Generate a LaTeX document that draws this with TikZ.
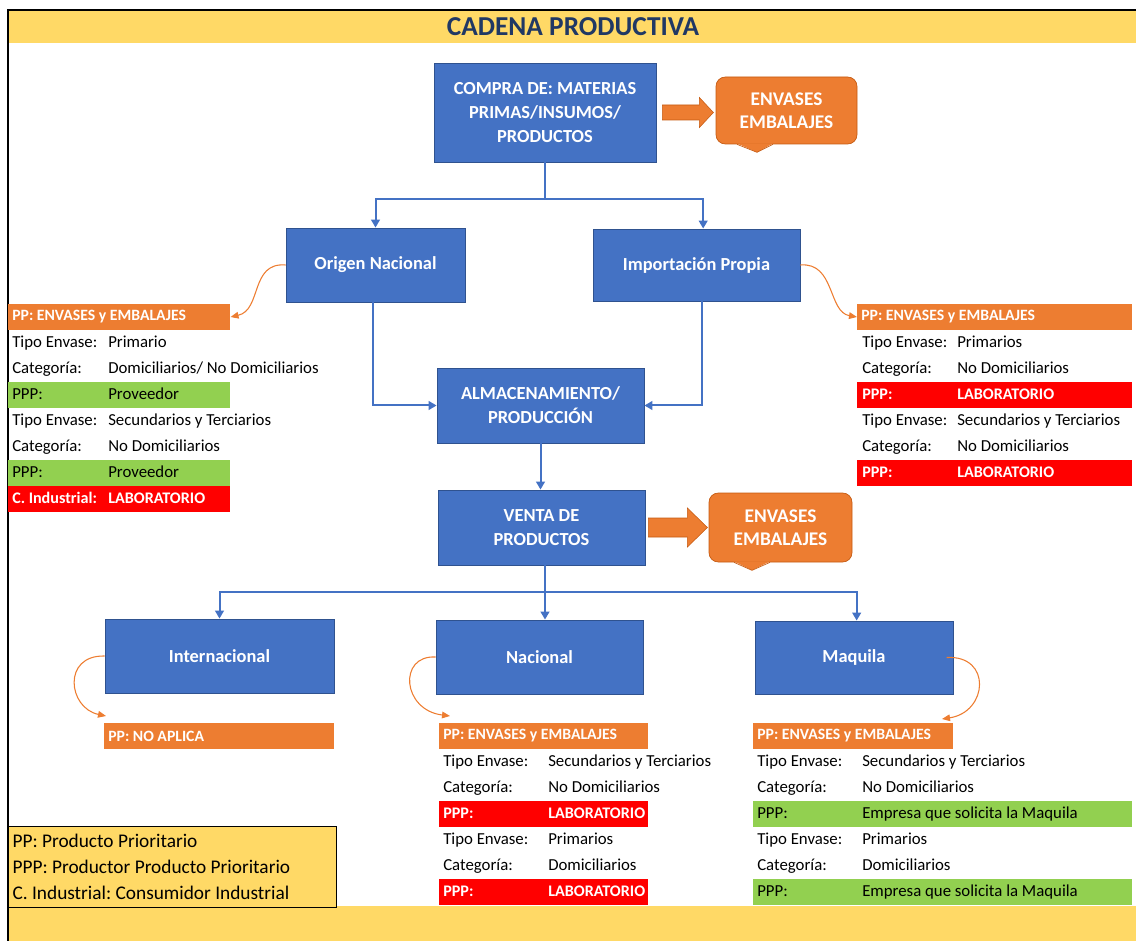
\documentclass[tikz,border=0pt]{standalone}
\usepackage{fontspec}
\setmainfont{Carlito}
\usetikzlibrary{arrows.meta,calc}
\usetikzlibrary{positioning}

\definecolor{azul}{HTML}{4472C4}
\definecolor{azulborde}{HTML}{2F528F}
\definecolor{naranja}{HTML}{ED7D31}
\definecolor{naranjaborde}{HTML}{C55A11}
\definecolor{verde}{HTML}{92D050}
\definecolor{rojo}{HTML}{FF0000}
\definecolor{amarillo}{HTML}{FFD966}
\definecolor{titulo}{HTML}{203864}

\begin{document}
\frenchspacing
\begin{tikzpicture}[x=0.75pt,y=-0.75pt,
  bloque/.style={draw=azulborde, fill=azul, text=white, line width=0.6pt, align=center,
    font=\fontsize{13.8}{18}\selectfont\bfseries},
  globo/.style={draw=naranjaborde, fill=naranja, text=white, line width=0.5pt, align=center,
    rounded corners=7pt, font=\fontsize{14.5}{17.5}\selectfont\bfseries},
  bflecha/.style={draw=naranjaborde, fill=naranja, line width=0.4pt},
  linea/.style={azul, line width=1.5pt},
  flecha/.style={linea, -{Triangle[length=6pt,width=6.5pt]}},
  curva/.style={naranja, line width=0.8pt, -{Triangle[length=6pt,width=5pt]}},
  cabecera/.style={anchor=west, fill=naranja, text=white, minimum height=19.5pt,
    inner xsep=3pt, inner ysep=0pt, align=flush left, font=\fontsize{11.8}{14}\selectfont\bfseries},
  barra/.style={anchor=west, minimum height=19.5pt, inner sep=0pt},
  txt/.style={anchor=west, inner sep=0pt, text height=1.6ex, text depth=.3ex,
    font=\fontsize{12.6}{14}\selectfont},
  txtb/.style={txt, text=white, font=\fontsize{12.1}{14}\selectfont\bfseries},
]
\useasboundingbox (0,0) rectangle (1136,941);

% franjas y marco
\fill[amarillo] (8,10) rectangle (1136,43);
\fill[amarillo] (8,906) rectangle (1136,941);
\draw[black, line width=1pt] (1136,10) -- (8,10) -- (8,941);
\node[font=\fontsize{20.5}{22}\selectfont\bfseries, text=titulo] (tit) at (573,27) {CADENA PRODUCTIVA};

% bloques principales
\node[bloque, minimum width=166.5pt, minimum height=74.25pt] (compra) at (545,112.5)
  {COMPRA DE: MATERIAS\\PRIMAS/INSUMOS/\\PRODUCTOS};
\node[bloque, minimum width=134.25pt, minimum height=55.5pt] (origen) at (375.5,265) {Origen Nacional};
\node[bloque, minimum width=155.25pt, minimum height=54pt] (importa) at (696.5,265) {Importación Propia};
\node[bloque, minimum width=155.25pt, minimum height=56.25pt] (almac) at (540.5,405.5)
  {ALMACENAMIENTO/\\PRODUCCIÓN};
\node[bloque, minimum width=155.25pt, minimum height=56.25pt] (venta) at (541.5,527.5)
  {VENTA DE\\PRODUCTOS};
\node[bloque, minimum width=171.75pt, minimum height=55.5pt] (inter) at (219.5,656) {Internacional};
\node[bloque, minimum width=155.25pt, minimum height=55.5pt] (nacional) at (539.5,657) {Nacional};
\node[bloque, minimum width=148.5pt, minimum height=54.75pt] (maquila) at (854,657.5) {Maquila};

% globos
\node[globo, minimum width=105.75pt, minimum height=50.25pt] (env1) at (786.5,110.5) {ENVASES\\EMBALAJES};
\fill[naranja] ($(env1.south)+(-49.5,-1)$) -- ($(env1.south)+(-29.5,8)$) -- ($(env1.south)+(-13.5,-1)$) -- cycle;
\draw[naranjaborde, line width=0.5pt] ($(env1.south)+(-49.5,0)$) -- ($(env1.south)+(-29.5,8)$) -- ($(env1.south)+(-13.5,0)$);
\node[globo, minimum width=107.25pt, minimum height=51.75pt] (env2) at (780.5,527.5) {ENVASES\\EMBALAJES};
\fill[naranja] ($(env2.south)+(-46.5,-1)$) -- ($(env2.south)+(-28.5,8)$) -- ($(env2.south)+(-10.5,-1)$) -- cycle;
\draw[naranjaborde, line width=0.5pt] ($(env2.south)+(-46.5,0)$) -- ($(env2.south)+(-28.5,8)$) -- ($(env2.south)+(-10.5,0)$);

\draw[bflecha] ($(compra.east)+(6,-7.5)$) -- ++(37,0) -- ++(0,-7.5) -- ++(14,15) -- ++(-14,15)
  -- ++(0,-7.5) -- ++(-37,0) -- cycle;
\draw[bflecha] ($(venta.east)+(3,-9.5)$) -- ++(39,0) -- ++(0,-10) -- ++(20,19.5) -- ++(-20,19.5)
  -- ++(0,-10) -- ++(-39,0) -- cycle;

% conectores
\coordinate (j1) at (545,199);
\coordinate (j2) at (545,592);
\draw[linea] (j1 |- compra.south) -- (j1);
\draw[flecha] (j1) -| (origen.north);
\draw[flecha] (j1) -| ([xshift=5pt]importa.north);
\draw[flecha] ([xshift=-2pt]origen.south) |- (almac.west);
\draw[flecha] ([xshift=4pt]importa.south) |- (almac.east);
\draw[flecha] (almac.south) -- (almac.south |- venta.north);
\draw[linea] (j2 |- venta.south) -- (j2);
\draw[flecha] (j2) -| (inter.north);
\draw[flecha] (j2) -- (j2 |- nacional.north);
\draw[flecha] (j2) -| ([xshift=2pt]maquila.north);

% tabla origen nacional
\node[cabecera, text width=160.5pt] (pp1) at (8,317) {PP: ENVASES y EMBALAJES};
\node[txt] (l1a) at (12,343) {Tipo Envase:};
\node[txt] (l1b) at (108,343) {Primario};
\node[txt] (l2a) at (12,369) {Categoría:};
\node[txt] (l2b) at (108,369) {Domiciliarios/ No Domiciliarios};
\node[barra, fill=verde, minimum width=166.5pt] (l3) at (8,395) {};
\node[txt] (l3a) at (12,395) {PPP:};
\node[txt] (l3b) at (108,395) {Proveedor};
\node[txt] (l4a) at (12,421) {Tipo Envase:};
\node[txt] (l4b) at (108,421) {Secundarios y Terciarios};
\node[txt] (l5a) at (12,447) {Categoría:};
\node[txt] (l5b) at (108,447) {No Domiciliarios};
\node[barra, fill=verde, minimum width=166.5pt] (l6) at (8,473) {};
\node[txt] (l6a) at (12,473) {PPP:};
\node[txt] (l6b) at (108,473) {Proveedor};
\node[barra, fill=rojo, minimum width=166.5pt] (l7) at (8,499) {};
\node[txtb] (l7a) at (12,499) {C. Industrial:};
\node[txtb] (l7b) at (108,499) {LABORATORIO};

% tabla importacion propia
\node[cabecera, text width=200.25pt] (pp2) at (857,317) {PP: ENVASES y EMBALAJES};
\node[txt] (r1a) at (862,343) {Tipo Envase:};
\node[txt] (r1b) at (957,343) {Primarios};
\node[txt] (r2a) at (862,369) {Categoría:};
\node[txt] (r2b) at (957,369) {No Domiciliarios};
\node[barra, fill=rojo, minimum width=206.25pt] (r3) at (857,395) {};
\node[txtb] (r3a) at (862,395) {PPP:};
\node[txtb] (r3b) at (957,395) {LABORATORIO};
\node[txt] (r4a) at (862,421) {Tipo Envase:};
\node[txt] (r4b) at (957,421) {Secundarios y Terciarios};
\node[txt] (r5a) at (862,447) {Categoría:};
\node[txt] (r5b) at (957,447) {No Domiciliarios};
\node[barra, fill=rojo, minimum width=206.25pt] (r6) at (857,473) {};
\node[txtb] (r6a) at (862,473) {PPP:};
\node[txtb] (r6b) at (957,473) {LABORATORIO};

% internacional
\node[cabecera, text width=166.5pt] (pp3) at (104,736) {PP: NO APLICA};

% tabla nacional
\node[cabecera, text width=150.75pt] (pp4) at (439,736) {PP: ENVASES y EMBALAJES};
\node[txt] (n1a) at (443,762) {Tipo Envase:};
\node[txt] (n1b) at (548,762) {Secundarios y Terciarios};
\node[txt] (n2a) at (443,788) {Categoría:};
\node[txt] (n2b) at (548,788) {No Domiciliarios};
\node[barra, fill=rojo, minimum width=156.75pt] (n3) at (439,814) {};
\node[txtb] (n3a) at (443,814) {PPP:};
\node[txtb] (n3b) at (548,814) {LABORATORIO};
\node[txt] (n4a) at (443,840) {Tipo Envase:};
\node[txt] (n4b) at (548,840) {Primarios};
\node[txt] (n5a) at (443,866) {Categoría:};
\node[txt] (n5b) at (548,866) {Domiciliarios};
\node[barra, fill=rojo, minimum width=156.75pt] (n6) at (439,892) {};
\node[txtb] (n6a) at (443,892) {PPP:};
\node[txtb] (n6b) at (548,892) {LABORATORIO};

% tabla maquila
\node[cabecera, text width=144pt] (pp5) at (753,736) {PP: ENVASES y EMBALAJES};
\node[txt] (m1a) at (757,762) {Tipo Envase:};
\node[txt] (m1b) at (862,762) {Secundarios y Terciarios};
\node[txt] (m2a) at (757,788) {Categoría:};
\node[txt] (m2b) at (862,788) {No Domiciliarios};
\node[barra, fill=verde, minimum width=284.25pt] (m3) at (753,814) {};
\node[txt] (m3a) at (757,814) {PPP:};
\node[txt] (m3b) at (862,814) {Empresa que solicita la Maquila};
\node[txt] (m4a) at (757,840) {Tipo Envase:};
\node[txt] (m4b) at (862,840) {Primarios};
\node[txt] (m5a) at (757,866) {Categoría:};
\node[txt] (m5b) at (862,866) {Domiciliarios};
\node[barra, fill=verde, minimum width=284.25pt] (m6) at (753,892) {};
\node[txt] (m6a) at (757,892) {PPP:};
\node[txt] (m6b) at (862,892) {Empresa que solicita la Maquila};

% flechas curvas
\coordinate (c3) at (106,716);
\coordinate (c4) at (450,716);
\coordinate (c5) at (942,719);
\draw[curva] (origen.west) .. controls (250,262) and (262,310) .. (pp1.east);
\draw[curva] (importa.east) .. controls (835,262) and (828,312) .. (pp2.west);
\draw[curva] (inter.west) .. controls (62,655) and (68,708) .. (c3);
\draw[curva] (nacional.west) .. controls (398,655) and (402,710) .. (c4);
\draw[curva] ([xshift=-5pt]maquila.east) .. controls (992,655) and (988,712) .. (c5);

% leyenda
\node[anchor=north west, draw=black, fill=amarillo, line width=0.8pt, minimum width=246pt,
  minimum height=60.75pt, text width=240pt, inner xsep=3pt, align=flush left,
  font=\fontsize{14.5}{19.5}\selectfont] (ley) at (8,826)
  {PP: Producto Prioritario\\PPP: Productor Producto Prioritario\\C. Industrial: Consumidor Industrial};

\end{tikzpicture}
\end{document}
